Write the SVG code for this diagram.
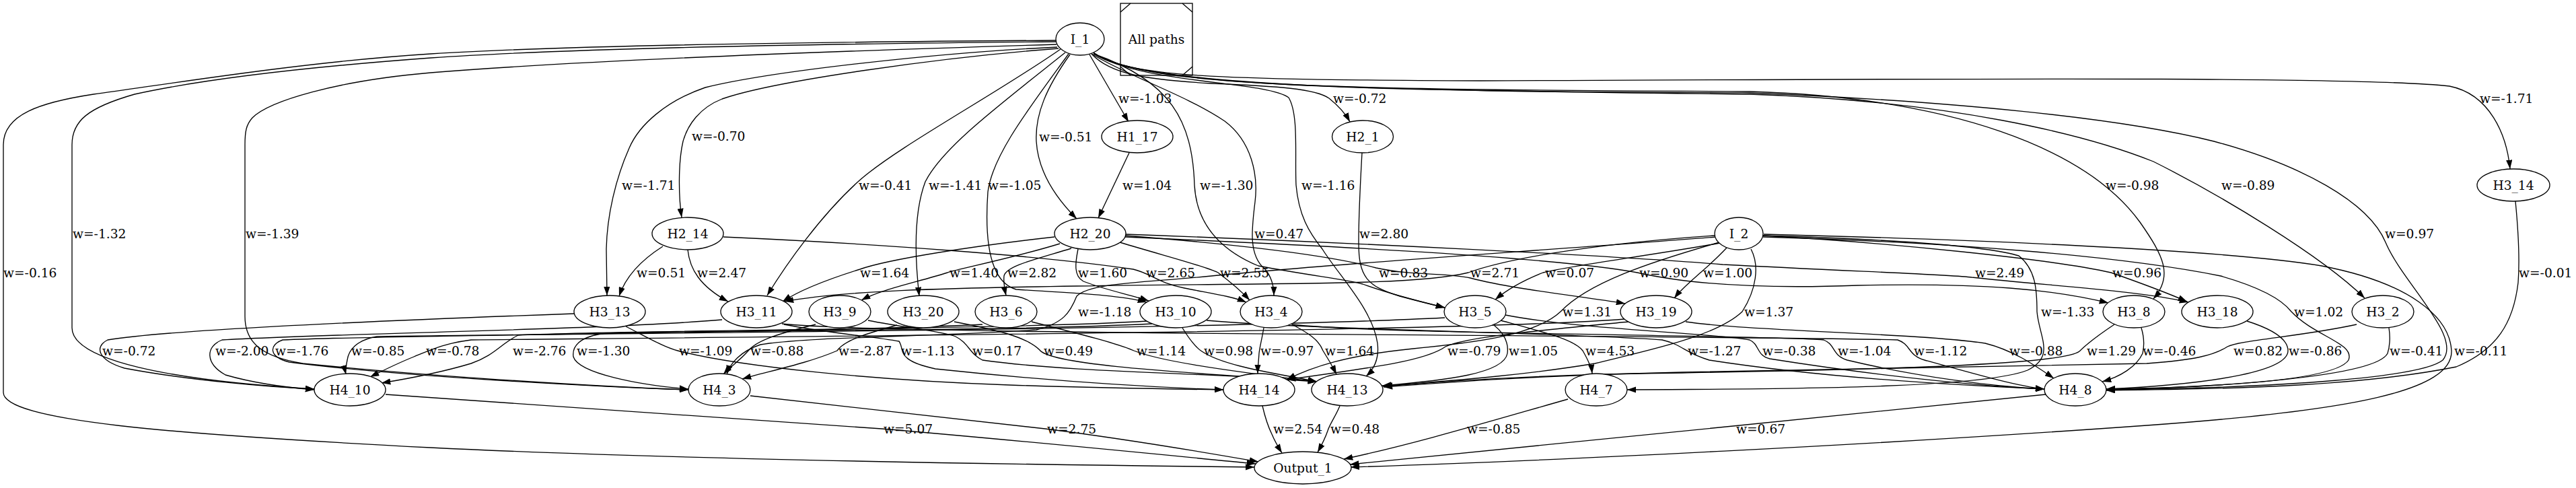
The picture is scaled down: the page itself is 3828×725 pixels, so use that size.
<svg xmlns="http://www.w3.org/2000/svg" width="3828" height="725" viewBox="0 0 3828 725">
<defs>
<marker id="ah" viewBox="0 0 10 7" refX="10" refY="3.5" markerWidth="13.3" markerHeight="9.3" markerUnits="userSpaceOnUse" orient="auto"><path d="M0,0 L10,3.5 L0,7 z" fill="#000"/></marker>
<style>
.n ellipse{fill:#fff;stroke:#000;stroke-width:1.33}
text{font-family:"DejaVu Serif","Liberation Serif",serif;font-size:18.67px;fill:#000}
.n text{text-anchor:middle}
.e path{fill:none;stroke:#000;stroke-width:1.33;marker-end:url(#ah)}
</style>
</defs>
<rect width="3828" height="725" fill="#fff"/>
<g id="connectors">
<g class="e"><path d="M1619,81 L1677,181"/><text x="1662" y="153">w=-1.03</text></g>
<g class="e"><path d="M1622,80 C1650,110 1700,118 1800,124 C1900,128 1955,132 1975,146 C1990,158 2000,170 2006,181"/><text x="1981" y="153">w=-0.72</text></g>
<g class="e"><path d="M1624,78 C1680,115 1800,118 2200,120 C2800,118 3500,112 3640,128 C3700,140 3725,200 3730,251"/><text x="3685" y="153">w=-1.71</text></g>
<g class="e"><path d="M1573,72 C1400,85 1150,120 1073,147 C1040,160 1022,185 1015,210 C1008,240 1008,290 1013,323"/><text x="1028" y="209">w=-0.70</text></g>
<g class="e"><path d="M1590,81 C1555,130 1538,170 1540,210 C1543,260 1575,300 1600,325"/><text x="1544" y="210">w=-0.51</text></g>
<g class="e"><path d="M1571,70 C1400,78 1150,105 1048,130 C990,150 950,185 935,220 C915,265 902,320 901,370 L902,439"/><text x="924" y="282">w=-1.71</text></g>
<g class="e"><path d="M1576,73 C1480,140 1330,220 1275,270 C1220,320 1170,390 1140,439"/><text x="1276" y="282">w=-0.41</text></g>
<g class="e"><path d="M1583,78 C1480,160 1400,220 1375,270 C1360,310 1358,370 1366,440"/><text x="1380" y="282">w=-1.41</text></g>
<g class="e"><path d="M1588,80 C1530,160 1475,230 1468,285 C1462,370 1475,420 1510,430 C1580,435 1660,437 1704,449"/><text x="1468" y="282">w=-1.05</text></g>
<g class="e"><path d="M1678,227 L1632,324"/><text x="1668" y="282">w=1.04</text></g>
<g class="e"><path d="M1625,80 C1740,120 1772,180 1775,275 C1778,330 1810,370 1870,395 C1950,410 2000,415 2025,422 C2060,435 2110,448 2147,457"/><text x="1783" y="282">w=-1.30</text></g>
<g class="e"><path d="M1625,80 C1700,125 1880,120 1915,145 C1930,170 1924,230 1926,275 C1930,320 1945,345 1965,370 C1990,410 2040,460 2047,510 C2050,535 2040,550 2030,559"/><text x="1934" y="282">w=-1.16</text></g>
<g class="e"><path d="M1626,79 C1700,130 2000,133 2600,136 C2900,145 3100,220 3180,330 C3215,380 3230,410 3200,444"/><text x="3129" y="282">w=-0.98</text></g>
<g class="e"><path d="M1626,79 C1700,132 2100,134 2600,140 C2900,150 3100,200 3200,240 C3300,290 3450,380 3514,443"/><text x="3301" y="282">w=-0.89</text></g>
<g class="e"><path d="M1569,62 C1100,66 800,75 640,86 C450,100 300,118 200,140 C130,160 107,180 107,215 L107,487 C107,535 250,565 467,578"/><text x="108" y="354">w=-1.32</text></g>
<g class="e"><path d="M1570,66 C1100,80 800,95 640,108 C500,120 400,150 375,175 C366,185 364,195 364,215 L364,470 C364,510 390,530 450,540 C650,560 900,575 1023,579"/><text x="365" y="354">w=-1.39</text></g>
<g class="e"><path d="M1622,80 C1680,115 1760,140 1820,180 C1860,210 1870,260 1865,300 C1860,340 1855,380 1880,400 C1890,412 1893,425 1893,439"/><text x="1864" y="354">w=0.47</text></g>
<g class="e"><path d="M2024,227 C2021,280 2019,330 2019,360 C2019,410 2030,425 2080,440 C2110,448 2130,453 2147,457"/><text x="2020" y="354">w=2.80</text></g>
<g class="e"><path d="M1626,79 C1700,133 2100,135 2600,138 C2900,150 3150,175 3290,210 C3420,245 3520,300 3545,360 C3570,420 3660,500 3630,535 C3600,560 3400,576 3130,579"/><text x="3544" y="354">w=0.97</text></g>
<g class="e"><path d="M1569,60 C1100,63 800,70 640,80 C450,92 250,125 139,140 C60,152 5,170 5,215 L5,583 C5,625 250,645 640,665 C1000,683 1500,690 1864,694"/><text x="5" y="412">w=-0.16</text></g>
<g class="e"><path d="M985,366 C955,385 930,410 920,440"/><text x="946" y="412">w=0.51</text></g>
<g class="e"><path d="M1022,371 C1025,400 1040,425 1082,448"/><text x="1036" y="412">w=2.47</text></g>
<g class="e"><path d="M1567,352 C1450,365 1320,385 1278,400 C1230,415 1190,430 1163,448"/><text x="1278" y="412">w=1.64</text></g>
<g class="e"><path d="M1575,362 C1500,385 1420,400 1408,405 C1360,420 1310,430 1280,446"/><text x="1411" y="412">w=1.40</text></g>
<g class="e"><path d="M1592,369 C1540,385 1495,395 1492,410 C1491,420 1493,430 1495,439"/><text x="1497" y="412">w=2.82</text></g>
<g class="e"><path d="M1602,370 C1598,390 1595,410 1610,418 C1640,430 1680,438 1707,447"/><text x="1602" y="412">w=1.60</text></g>
<g class="e"><path d="M1075,352 C1300,362 1550,380 1684,400 C1710,406 1720,420 1760,428 C1800,436 1830,440 1852,449"/><text x="1703" y="412">w=2.65</text></g>
<g class="e"><path d="M1664,360 C1730,380 1790,395 1810,405 C1830,420 1845,433 1857,446"/><text x="1813" y="412">w=2.55</text></g>
<g class="e"><path d="M1672,350 C1800,360 1960,375 2045,398 C2100,410 2150,405 2185,413 C2250,430 2350,440 2415,451"/><text x="2049" y="412">w=0.83</text></g>
<g class="e"><path d="M1672,352 C1900,362 2300,380 2433,405 C2500,420 2600,430 2760,424 C2950,420 3050,430 3133,450"/><text x="2436" y="412">w=0.90</text></g>
<g class="e"><path d="M1672,348 C2000,360 2400,380 2560,393 C2750,403 2900,408 2930,412 C3050,425 3180,432 3252,449"/><text x="2935" y="412">w=2.49</text></g>
<g class="e"><path d="M2548,350 C2400,360 2250,380 2182,405 C2100,425 1900,420 1600,425 C1400,428 1250,432 1166,448"/><text x="2185" y="412">w=2.71</text></g>
<g class="e"><path d="M2556,361 C2450,380 2330,395 2293,405 C2260,418 2240,430 2222,445"/><text x="2296" y="412">w=0.07</text></g>
<g class="e"><path d="M2566,368 C2550,385 2535,398 2527,405 C2510,420 2498,430 2488,443"/><text x="2531" y="412">w=1.00</text></g>
<g class="e"><path d="M2620,350 C2800,360 3050,385 3137,405 C3180,420 3220,435 3250,448"/><text x="3139" y="412">w=0.96</text></g>
<g class="e"><path d="M2550,352 C2300,372 2000,390 1800,410 C1700,420 1620,420 1600,440 C1590,465 1580,480 1540,490 C1400,500 1200,500 1130,512 C1100,522 1085,540 1080,556"/><text x="1602" y="470">w=-1.18</text></g>
<g class="e"><path d="M2555,360 C2450,390 2360,420 2319,463 C2280,500 2180,510 2100,518 C2000,528 1950,545 1912,564"/><text x="2322" y="470">w=1.31</text></g>
<g class="e"><path d="M2602,370 C2615,395 2610,430 2589,463 C2550,500 2450,520 2370,540 C2250,560 2120,568 2055,574"/><text x="2592" y="470">w=1.37</text></g>
<g class="e"><path d="M2620,350 C2800,355 2950,365 3000,380 C3025,400 3027,430 3027,463 C3030,500 3055,530 3013,550 C2950,575 2700,578 2418,579"/><text x="3033" y="470">w=-1.33</text></g>
<g class="e"><path d="M2620,352 C2900,360 3150,380 3300,410 C3370,430 3395,450 3405,463 C3440,500 3500,510 3490,535 C3470,565 3300,575 3130,578"/><text x="3409" y="470">w=1.02</text></g>
<g class="e"><path d="M2621,348 C2900,355 3300,370 3450,395 C3580,420 3640,470 3643,521 C3645,580 3500,610 3190,632 C2800,660 2300,685 2007,694"/><text x="3647" y="528">w=-0.11</text></g>
<g class="e"><path d="M3738,299 C3742,340 3745,380 3742,420 C3735,480 3710,520 3650,545 C3500,575 3300,578 3130,580"/><text x="3743" y="412">w=-0.01</text></g>
<g class="e"><path d="M853,466 C600,475 250,490 160,505 C140,515 145,535 185,547 C280,565 400,575 467,578"/><text x="152" y="528">w=-0.72</text></g>
<g class="e"><path d="M1073,475 C900,490 500,495 330,505 C305,515 305,540 335,557 C380,570 430,576 467,579"/><text x="320" y="528">w=-2.00</text></g>
<g class="e"><path d="M1460,482 C1200,495 600,497 420,505 C400,512 398,530 430,538 C600,560 900,575 1023,579"/><text x="409" y="528">w=-1.76</text></g>
<g class="e"><path d="M2147,472 C1800,490 900,495 560,500 C530,505 518,520 516,535 C514,545 513,552 514,556"/><text x="522" y="528">w=-0.85</text></g>
<g class="e"><path d="M2414,474 C2200,492 1200,500 700,505 C660,510 640,520 615,530 C590,540 570,550 550,560"/><text x="633" y="528">w=-0.78</text></g>
<g class="e"><path d="M1705,477 C1500,490 900,490 770,498 C745,510 735,528 700,540 C660,552 610,562 567,569"/><text x="762" y="528">w=-2.76</text></g>
<g class="e"><path d="M1712,481 C1500,492 1100,490 900,495 C860,500 850,515 852,530 C860,555 950,572 1023,578"/><text x="857" y="528">w=-1.30</text></g>
<g class="e"><path d="M930,485 C960,500 985,515 1007,521 C1100,545 1300,565 1500,572 C1650,577 1750,578 1818,579"/><text x="1009" y="528">w=-1.09</text></g>
<g class="e"><path d="M1212,482 C1160,495 1125,505 1112,521 C1100,535 1085,545 1075,556"/><text x="1115" y="528">w=-0.88</text></g>
<g class="e"><path d="M1333,483 C1290,495 1255,505 1244,521 C1200,540 1140,552 1103,563"/><text x="1246" y="528">w=-2.87</text></g>
<g class="e"><path d="M1165,482 C1230,495 1300,500 1336,507 C1345,520 1330,535 1390,548 C1550,565 1700,575 1818,579"/><text x="1339" y="528">w=-1.13</text></g>
<g class="e"><path d="M1290,476 C1350,488 1400,492 1420,500 C1440,510 1440,525 1460,535 C1600,555 1850,555 1957,567"/><text x="1445" y="528">w=0.17</text></g>
<g class="e"><path d="M1418,478 C1480,490 1525,500 1545,520 C1560,540 1700,550 1957,567"/><text x="1551" y="528">w=0.49</text></g>
<g class="e"><path d="M1533,478 C1600,495 1660,510 1685,521 C1720,535 1800,548 1957,567"/><text x="1689" y="528">w=1.14</text></g>
<g class="e"><path d="M1757,487 C1765,500 1775,515 1786,522 C1820,545 1900,555 1957,567"/><text x="1789" y="528">w=0.98</text></g>
<g class="e"><path d="M1878,487 C1875,505 1872,515 1871,525 C1870,540 1869,548 1869,555"/><text x="1873" y="528">w=-0.97</text></g>
<g class="e"><path d="M1918,481 C1945,495 1960,505 1966,521 C1975,535 1982,548 1986,556"/><text x="1969" y="528">w=1.64</text></g>
<g class="e"><path d="M2420,478 C2300,490 2180,500 2148,515 C2120,535 2050,545 1912,564"/><text x="2151" y="528">w=-0.79</text></g>
<g class="e"><path d="M2220,483 C2235,495 2242,510 2240,525 C2235,555 2150,565 2054,573"/><text x="2242" y="528">w=1.05</text></g>
<g class="e"><path d="M2230,476 C2300,495 2340,505 2352,521 C2360,535 2365,545 2366,555"/><text x="2356" y="528">w=4.53</text></g>
<g class="e"><path d="M1793,476 C1950,490 2350,495 2470,505 C2500,512 2505,525 2540,535 C2700,560 2900,572 3038,578"/><text x="2508" y="528">w=-1.27</text></g>
<g class="e"><path d="M2237,468 C2350,490 2550,495 2600,505 C2615,512 2610,528 2630,533 C2800,560 2950,574 3038,578"/><text x="2619" y="528">w=-0.38</text></g>
<g class="e"><path d="M1920,482 C2050,497 2600,497 2710,505 C2728,512 2722,528 2745,535 C2850,560 2960,574 3038,578"/><text x="2731" y="528">w=-1.04</text></g>
<g class="e"><path d="M1162,481 C1300,498 2500,497 2820,505 C2840,512 2835,528 2860,535 C2950,560 3000,574 3038,578"/><text x="2844" y="528">w=-1.12</text></g>
<g class="e"><path d="M2505,478 C2600,492 2850,495 2950,510 C2990,520 3020,540 3052,562"/><text x="2986" y="528">w=-0.88</text></g>
<g class="e"><path d="M3142,482 C3115,500 3100,512 3090,522 C3060,545 2700,550 2500,554 C2300,556 2150,566 2056,574"/><text x="3101" y="528">w=1.29</text></g>
<g class="e"><path d="M3182,487 C3186,500 3187,512 3184,525 C3175,545 3150,560 3124,567"/><text x="3184" y="528">w=-0.46</text></g>
<g class="e"><path d="M3502,482 C3420,500 3330,505 3310,515 C3290,528 3260,535 3190,540 C3000,545 2700,548 2500,553 C2300,557 2150,568 2056,575"/><text x="3319" y="528">w=0.82</text></g>
<g class="e"><path d="M3339,477 C3380,490 3400,505 3400,521 C3400,550 3300,570 3130,578"/><text x="3401" y="528">w=-0.86</text></g>
<g class="e"><path d="M3550,487 C3552,500 3552,512 3548,525 C3530,560 3300,575 3130,579"/><text x="3551" y="528">w=-0.41</text></g>
<g class="e"><path d="M573,586 C900,608 1150,625 1310,637 C1500,653 1700,673 1866,689"/><text x="1313" y="644">w=5.07</text></g>
<g class="e"><path d="M1115,588 C1300,610 1450,625 1553,637 C1680,653 1790,672 1870,686"/><text x="1556" y="644">w=2.75</text></g>
<g class="e"><path d="M1876,603 C1880,620 1885,635 1890,645 C1895,657 1900,665 1905,673"/><text x="1892" y="644">w=2.54</text></g>
<g class="e"><path d="M1991,603 C1985,618 1976,630 1973,640 C1969,652 1963,663 1958,672"/><text x="1977" y="644">w=0.48</text></g>
<g class="e"><path d="M2330,593 C2200,630 2100,660 1997,682"/><text x="2180" y="644">w=-0.85</text></g>
<g class="e"><path d="M3040,586 C2800,610 2580,632 2575,633 C2300,660 2100,682 2006,690"/><text x="2580" y="644">w=0.67</text></g>
</g>
<g id="nodes">
<g class="n" id="I_1"><ellipse cx="1605" cy="58" rx="36" ry="24"/><text x="1605" y="64.5">I_1</text></g>
<g id="legend"><rect x="1665" y="5" width="107" height="107" fill="none" stroke="#000" stroke-width="1.33"/><path d="M1665,18 L1680,5 M1757,5 L1772,18 M1665,99 L1680,112 M1757,112 L1772,99" stroke="#000" stroke-width="1.33" fill="none"/><text x="1718.5" y="65" text-anchor="middle">All paths</text></g>
<g class="n" id="H1_17"><ellipse cx="1690" cy="203" rx="53" ry="24"/><text x="1690" y="209.5">H1_17</text></g>
<g class="n" id="H2_1"><ellipse cx="2025" cy="203" rx="45.5" ry="24"/><text x="2025" y="209.5">H2_1</text></g>
<g class="n" id="H3_14"><ellipse cx="3735" cy="275" rx="54" ry="24"/><text x="3735" y="281.5">H3_14</text></g>
<g class="n" id="H2_14"><ellipse cx="1022" cy="347" rx="53" ry="24"/><text x="1022" y="353.5">H2_14</text></g>
<g class="n" id="H2_20"><ellipse cx="1620" cy="347" rx="53" ry="24"/><text x="1620" y="353.5">H2_20</text></g>
<g class="n" id="I_2"><ellipse cx="2584" cy="347" rx="36" ry="24"/><text x="2584" y="353.5">I_2</text></g>
<g class="n" id="H3_13"><ellipse cx="906" cy="463" rx="53" ry="24"/><text x="906" y="469.5">H3_13</text></g>
<g class="n" id="H3_11"><ellipse cx="1124" cy="463" rx="53" ry="24"/><text x="1124" y="469.5">H3_11</text></g>
<g class="n" id="H3_9"><ellipse cx="1248" cy="463" rx="46" ry="24"/><text x="1248" y="469.5">H3_9</text></g>
<g class="n" id="H3_20"><ellipse cx="1372" cy="463" rx="53" ry="24"/><text x="1372" y="469.5">H3_20</text></g>
<g class="n" id="H3_6"><ellipse cx="1495" cy="463" rx="46" ry="24"/><text x="1495" y="469.5">H3_6</text></g>
<g class="n" id="H3_10"><ellipse cx="1747" cy="463" rx="53" ry="24"/><text x="1747" y="469.5">H3_10</text></g>
<g class="n" id="H3_4"><ellipse cx="1889" cy="463" rx="46" ry="24"/><text x="1889" y="469.5">H3_4</text></g>
<g class="n" id="H3_5"><ellipse cx="2192" cy="463" rx="46" ry="24"/><text x="2192" y="469.5">H3_5</text></g>
<g class="n" id="H3_19"><ellipse cx="2461" cy="463" rx="53" ry="24"/><text x="2461" y="469.5">H3_19</text></g>
<g class="n" id="H3_8"><ellipse cx="3171" cy="463" rx="46" ry="24"/><text x="3171" y="469.5">H3_8</text></g>
<g class="n" id="H3_18"><ellipse cx="3295" cy="463" rx="53" ry="24"/><text x="3295" y="469.5">H3_18</text></g>
<g class="n" id="H3_2"><ellipse cx="3541" cy="463" rx="46" ry="24"/><text x="3541" y="469.5">H3_2</text></g>
<g class="n" id="H4_10"><ellipse cx="520" cy="579" rx="53" ry="24"/><text x="520" y="585.5">H4_10</text></g>
<g class="n" id="H4_3"><ellipse cx="1069" cy="579" rx="46" ry="24"/><text x="1069" y="585.5">H4_3</text></g>
<g class="n" id="H4_14"><ellipse cx="1871" cy="579" rx="53" ry="24"/><text x="1871" y="585.5">H4_14</text></g>
<g class="n" id="H4_13"><ellipse cx="2002" cy="579" rx="53" ry="24"/><text x="2002" y="585.5">H4_13</text></g>
<g class="n" id="H4_7"><ellipse cx="2372" cy="579" rx="46" ry="24"/><text x="2372" y="585.5">H4_7</text></g>
<g class="n" id="H4_8"><ellipse cx="3084" cy="579" rx="46" ry="24"/><text x="3084" y="585.5">H4_8</text></g>
<g class="n" id="Output_1"><ellipse cx="1936" cy="695" rx="72" ry="24"/><text x="1936" y="701.5">Output_1</text></g>
</g>
</svg>
